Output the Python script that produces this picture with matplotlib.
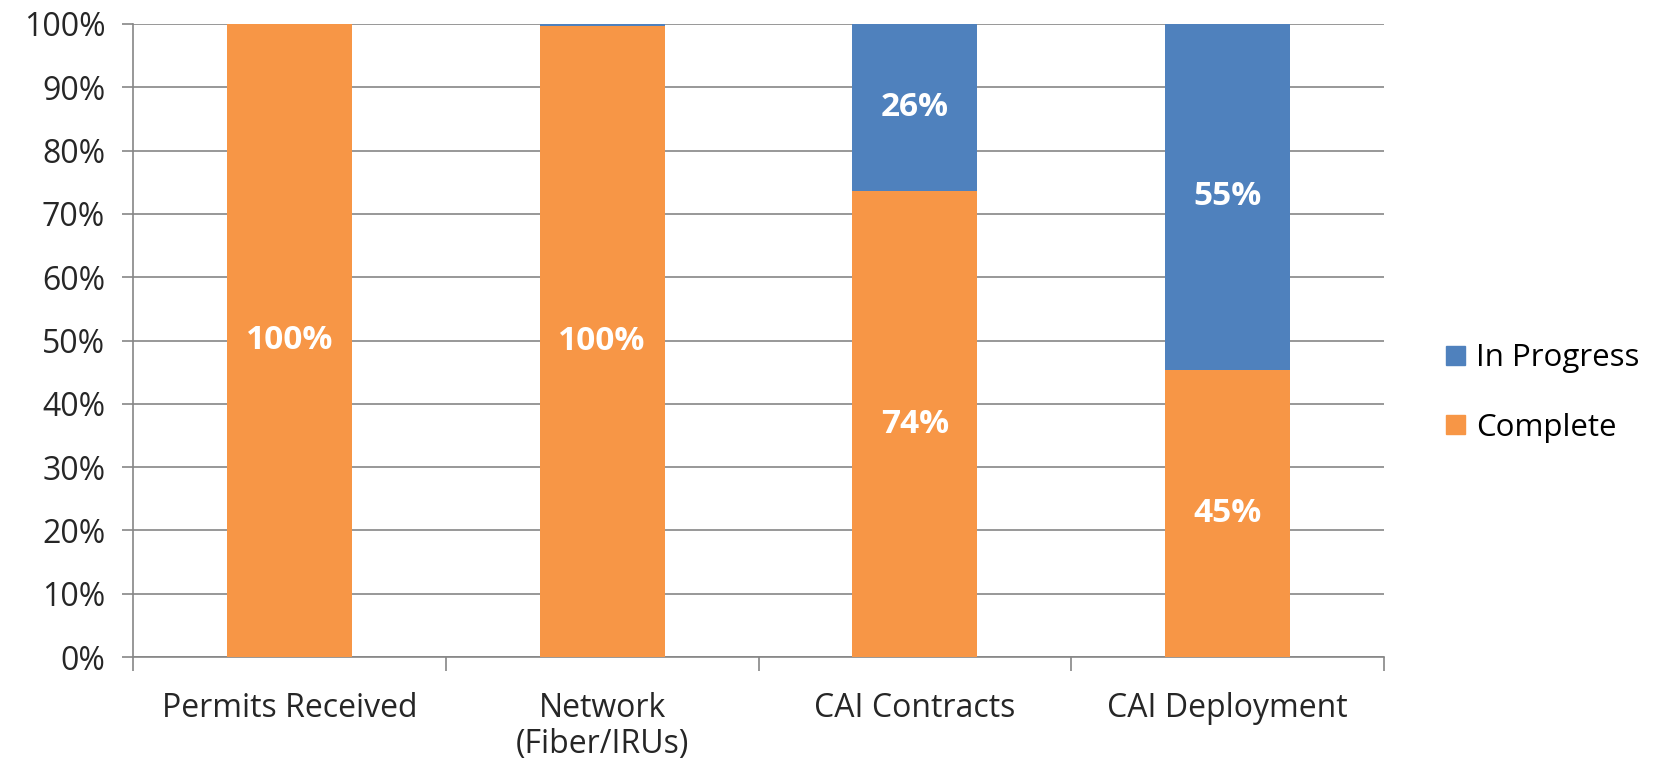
from matplotlib import pyplot as plt
from matplotlib.patches import Patch
import numpy

categories = ["Permits Received", "Network\n(Fiber/IRUs)", "CAI Contracts", "CAI Deployment"]
complete = [100, 99.7, 73.6, 45.4]
in_progress = [0, 0.3, 26.4, 54.6]
complete_labels = ["100%", "100%", "74%", "45%"]
progress_labels = ["", "", "26%", "55%"]

orange = "#F79646"
blue = "#4F81BD"
grey = "#868686"

plt.rcParams['font.family'] = ['Open Sans', 'DejaVu Sans']

fig = plt.figure(figsize=(16.69, 7.71), dpi=100)
ax = fig.add_axes([133/1669, 1 - 657/771, (1384 - 133)/1669, (657 - 24)/771])

x = numpy.arange(len(categories))
ax.bar(x, complete, width=0.4, color=orange, zorder=3)
ax.bar(x, in_progress, width=0.4, bottom=complete, color=blue, zorder=3)

for i in range(len(categories)):
    ax.text(x[i], complete[i]/2, complete_labels[i], ha='center', va='center',
            color='white', fontsize=24, fontweight='bold', zorder=4)
    if progress_labels[i]:
        ax.text(x[i], complete[i] + in_progress[i]/2, progress_labels[i],
                ha='center', va='center', color='white', fontsize=24,
                fontweight='bold', zorder=4)

ax.set_xlim(-0.5, len(categories) - 0.5)
ax.set_ylim(0, 100)
ax.set_yticks(numpy.arange(0, 101, 10))
ax.set_yticklabels([str(v) + "%" for v in range(0, 101, 10)])
ax.yaxis.grid(True, color=grey, linewidth=1.2, zorder=0)

ax.set_xticks(numpy.arange(-0.5, len(categories), 1))
ax.set_xticklabels([])
ax.set_xticks(x, minor=True)
ax.set_xticklabels(categories, minor=True, linespacing=1.15)
ax.tick_params(axis='x', which='minor', length=0, pad=25, labelsize=23, colors='#262626')
ax.tick_params(axis='x', which='major', length=10, color=grey, width=1.2)
ax.tick_params(axis='y', length=8, color=grey, width=1.2, labelsize=23, labelcolor='#262626', pad=12)

for s in ['top', 'right']:
    ax.spines[s].set_visible(False)
for s in ['left', 'bottom']:
    ax.spines[s].set_color(grey)
    ax.spines[s].set_linewidth(1.2)

handles = [Patch(color=blue, label="In Progress"), Patch(color=orange, label="Complete")]
fig.legend(handles=handles, loc='center left', bbox_to_anchor=(1418/1669, 1 - 393/771),
           frameon=False, fontsize=22.5, handlelength=0.6, handleheight=0.6,
           handletextpad=0.35, labelspacing=1.25)

plt.savefig('out.png', dpi=100)
